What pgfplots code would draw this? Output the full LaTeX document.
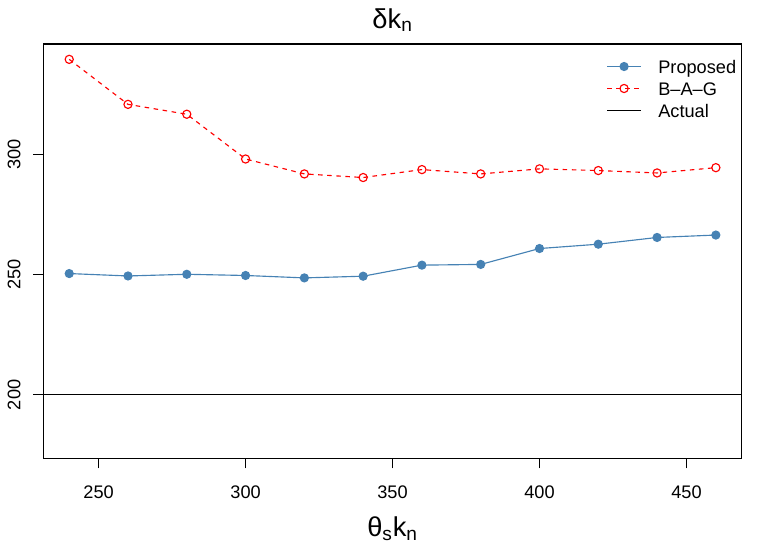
\documentclass[border=0pt]{standalone}
\usepackage{fontspec}
\setmainfont{Liberation Sans}
\usepackage{pgfplots}
\pgfplotsset{compat=1.18}
\definecolor{steel}{RGB}{70,130,180}

\begin{document}
\begin{tikzpicture}[font=\fontsize{12bp}{14bp}\selectfont]
\useasboundingbox (0,0) rectangle (504bp,360bp);
\begin{axis}[
    at={(28.6bp,57.6bp)}, anchor=south west,
    scale only axis, width=460.7bp, height=273.4bp,
    xmin=231.2, xmax=468.8, ymin=173.6, ymax=345.8,
    xtick={250,300,350,400,450}, ytick={200,250,300},
    xtick pos=bottom, ytick pos=left,
    tick align=outside, major tick length=6.6bp,
    axis line style={line width=0.75bp},
    tick style={black, line width=0.75bp},
    /pgf/number format/assume math mode=true,
    xticklabel style={anchor=base, inner sep=0pt, yshift=-19.7bp},
    yticklabel style={rotate=90, anchor=base, inner sep=0pt, yshift=8.6bp},
    clip=false,
    legend style={at={(0.806,0.962)}, anchor=north west, draw=none, fill=none,
        inner sep=0pt, row sep=3.4bp,
        nodes={anchor=base west, inner sep=0pt, text height=8.6bp, text depth=2.5bp}},
    legend image code/.code={
        \draw[mark repeat=2, mark phase=2, #1] plot coordinates {(0bp,4.3bp) (11.2bp,4.3bp) (22.4bp,4.3bp)};
        \path (33.4bp,4.3bp);},
]
\addplot[steel, line width=0.75bp, mark=*, mark size=2.65bp, mark options={fill=steel, draw=steel}]
coordinates {
    (240,250.4) (260,249.4) (280,250.1) (300,249.6) (320,248.6) (340,249.3)
    (360,253.9) (380,254.2) (400,260.8) (420,262.6) (440,265.4) (460,266.4)
};
\addlegendentry{Proposed}
\addplot[red, line width=0.75bp, dash pattern=on 3bp off 3bp, mark=o, mark size=2.7bp, mark options={solid, draw=red, fill=none}]
coordinates {
    (240,339.4) (260,320.7) (280,316.6) (300,298.0) (320,291.8) (340,290.3)
    (360,293.6) (380,291.8) (400,293.9) (420,293.2) (440,292.2) (460,294.4)
};
\addlegendentry{B–A–G}
\addplot[black, line width=0.75bp] coordinates {(231.2,200) (468.8,200)};
\addlegendentry{Actual}
\node[anchor=base, font=\fontsize{18bp}{20bp}\selectfont] at (rel axis cs:0.5,1) [yshift=10.5bp] {δk\textsubscript{n}};
\node[anchor=base, font=\fontsize{18bp}{20bp}\selectfont] at (rel axis cs:0.5,0) [yshift=-51.3bp] {θ\textsubscript{s}k\textsubscript{n}};
\end{axis}
\end{tikzpicture}
\end{document}
